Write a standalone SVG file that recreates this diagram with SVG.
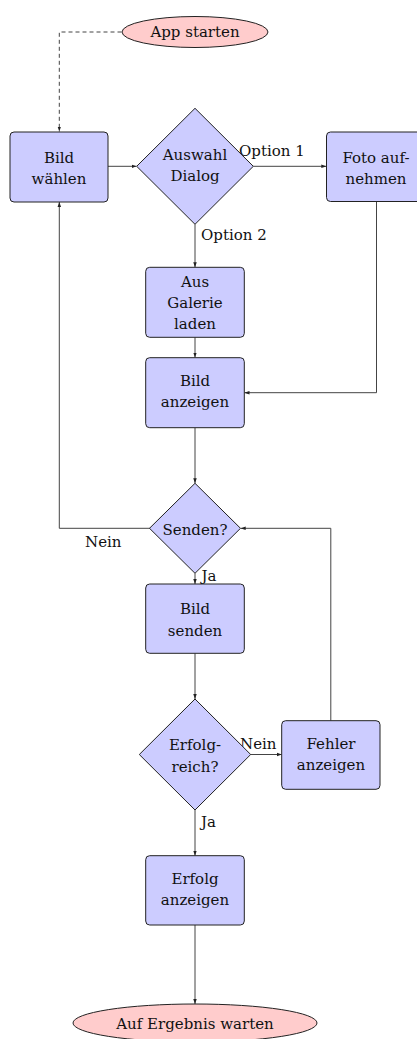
<svg xmlns="http://www.w3.org/2000/svg" width="417" height="1039" viewBox="0 0 417 1039">
<defs>
<marker id="arr" viewBox="0 0 10 10" refX="10" refY="5" markerWidth="5" markerHeight="5" orient="auto" markerUnits="userSpaceOnUse">
<path d="M0,1.5 L10,5 L0,8.5 Z" fill="#222"/>
</marker>
<style>
.box{fill:#ccccff;stroke:#222;stroke-width:1}
.term{fill:#ffcccc;stroke:#222;stroke-width:1}
.t{font-family:"DejaVu Serif","Liberation Serif",serif;font-size:15px;fill:#111;text-anchor:middle}
.l{font-family:"DejaVu Serif","Liberation Serif",serif;font-size:15px;fill:#111}
.c{fill:none;stroke:#444;stroke-width:1;marker-end:url(#arr)}
.d{stroke-dasharray:4,3}
</style>
</defs>
<rect width="417" height="1039" fill="#fff"/>
<g id="connectors">
<path class="c d" d="M121.5,32 H59.3 V131.5"/>
<path class="c" d="M108,166.3 H136.5"/>
<path class="c" d="M253.3,166.3 H326.3"/>
<path class="c" d="M195,224.3 V267.3"/>
<path class="c" d="M195,337.3 V357.5"/>
<path class="c" d="M376.5,201.5 V392.7 H244.5"/>
<path class="c" d="M195,427.7 V483.3"/>
<path class="c" d="M150,528.3 H59.3 V202"/>
<path class="c" d="M195,573.3 V584"/>
<path class="c" d="M195,653.3 V699"/>
<path class="c" d="M250.7,754.5 H281.7"/>
<path class="c" d="M330.8,720.7 V528.3 H240.7"/>
<path class="c" d="M195,810 V855.7"/>
<path class="c" d="M195,925 V1004"/>
<text class="l" x="239" y="156">Option 1</text>
<text class="l" x="201" y="240">Option 2</text>
<text class="l" x="85" y="547">Nein</text>
<text class="l" x="201.5" y="581">Ja</text>
<text class="l" x="240" y="748.5">Nein</text>
<text class="l" x="201" y="827">Ja</text>
</g>
<g id="start">
<ellipse class="term" cx="195" cy="32" rx="73" ry="15.5"/>
<text class="t" x="195" y="37">App starten</text>
</g>
<g id="bild-waehlen">
<rect class="box" x="10" y="132" width="98" height="70" rx="4"/>
<text class="t" x="59" y="163">Bild</text>
<text class="t" x="59" y="184">wählen</text>
</g>
<g id="auswahl-dialog">
<polygon class="box" points="195,108.3 253.3,166.3 195,224.3 136.7,166.3"/>
<text class="t" x="195" y="160">Auswahl</text>
<text class="t" x="195" y="181">Dialog</text>
</g>
<g id="foto-aufnehmen">
<rect class="box" x="326.5" y="132" width="98.6" height="69.5" rx="4"/>
<text class="t" x="376" y="163">Foto auf-</text>
<text class="t" x="376" y="184">nehmen</text>
</g>
<g id="aus-galerie">
<rect class="box" x="145.7" y="267.3" width="98.6" height="70" rx="4"/>
<text class="t" x="195" y="287">Aus</text>
<text class="t" x="195" y="308">Galerie</text>
<text class="t" x="195" y="329">laden</text>
</g>
<g id="bild-anzeigen">
<rect class="box" x="145.7" y="357.7" width="98.6" height="70" rx="4"/>
<text class="t" x="195" y="386">Bild</text>
<text class="t" x="195" y="407">anzeigen</text>
</g>
<g id="senden">
<polygon class="box" points="195,483.3 240.5,528.3 195,573.3 149.5,528.3"/>
<text class="t" x="195" y="535">Senden?</text>
</g>
<g id="bild-senden">
<rect class="box" x="145.7" y="584" width="98.6" height="69.3" rx="4"/>
<text class="t" x="195" y="614">Bild</text>
<text class="t" x="195" y="636">senden</text>
</g>
<g id="erfolgreich">
<polygon class="box" points="195,699 250.7,754.5 195,810 139.3,754.5"/>
<text class="t" x="195" y="750">Erfolg-</text>
<text class="t" x="195" y="771.5">reich?</text>
</g>
<g id="fehler-anzeigen">
<rect class="box" x="281.7" y="720.7" width="98.3" height="68.6" rx="4"/>
<text class="t" x="331" y="749">Fehler</text>
<text class="t" x="331" y="769.5">anzeigen</text>
</g>
<g id="erfolg-anzeigen">
<rect class="box" x="145.7" y="855.7" width="98.6" height="69.3" rx="4"/>
<text class="t" x="195" y="884">Erfolg</text>
<text class="t" x="195" y="905">anzeigen</text>
</g>
<g id="ende">
<ellipse class="term" cx="195" cy="1023" rx="122" ry="19"/>
<text class="t" x="195" y="1029">Auf Ergebnis warten</text>
</g>
</svg>
